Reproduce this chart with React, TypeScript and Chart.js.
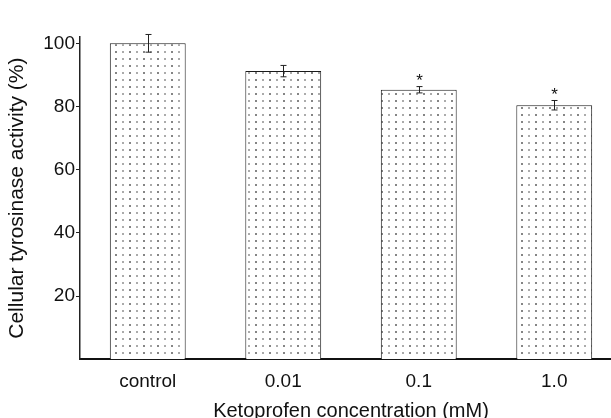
import React, { useEffect, useRef } from 'react';
import { Chart, registerables } from 'chart.js';

Chart.register(...registerables);

const categories = ['control', '0.01', '0.1', '1.0'];
const activity = [100, 91.2, 85.3, 80.4];
const errors = [2.8, 1.8, 1.0, 1.5];
const significance = ['', '', '*', '*'];
const yTicks = [20, 40, 60, 80, 100];

const FONT = "'Liberation Sans', Arial, Helvetica, sans-serif";
const INK = '#111111';

export default function App() {
  const ref = useRef<HTMLCanvasElement>(null);

  useEffect(() => {
    const canvas = ref.current!;
    const tile = document.createElement('canvas');
    tile.width = 14;
    tile.height = 7;
    const t = tile.getContext('2d')!;
    t.fillStyle = '#ffffff';
    t.fillRect(0, 0, 14, 7);
    t.fillStyle = '#858585';
    t.fillRect(3, 2, 2, 2);
    t.fillStyle = '#ababab';
    t.fillRect(10, 2, 2, 2);
    const pattern = canvas.getContext('2d')!.createPattern(tile, 'repeat');

    const errorBars = {
      id: 'errorBars',
      afterDatasetsDraw(chart: any) {
        const ctx = chart.ctx;
        const meta = chart.getDatasetMeta(0);
        const y = chart.scales.y;
        ctx.save();
        ctx.strokeStyle = '#222';
        ctx.lineWidth = 1;
        meta.data.forEach((bar: any, i: number) => {
          const x = Math.round(bar.x) + 0.5;
          const top = y.getPixelForValue(activity[i] + errors[i]);
          const bot = y.getPixelForValue(activity[i] - errors[i]);
          ctx.beginPath();
          ctx.moveTo(x, top);
          ctx.lineTo(x, bot);
          ctx.moveTo(x - 3, top);
          ctx.lineTo(x + 3, top);
          ctx.moveTo(x - 3, bot);
          ctx.lineTo(x + 3, bot);
          ctx.stroke();
          if (significance[i]) {
            ctx.fillStyle = INK;
            ctx.font = `17px ${FONT}`;
            ctx.textAlign = 'center';
            ctx.textBaseline = 'middle';
            ctx.fillText(significance[i], x, top - 5);
          }
        });
        ctx.restore();
      },
    };

    const chart = new Chart(canvas, {
      type: 'bar',
      data: {
        labels: categories,
        datasets: [
          {
            data: activity,
            backgroundColor: pattern as any,
            borderColor: '#1a1a1a',
            borderWidth: 1,
            barPercentage: 0.56,
            categoryPercentage: 1,
          },
        ],
      },
      options: {
        animation: false,
        responsive: true,
        maintainAspectRatio: false,
        layout: { padding: { left: 0, right: 0, top: 37, bottom: -5 } },
        plugins: { legend: { display: false }, tooltip: { enabled: false } },
        scales: {
          x: {
            grid: { display: false, drawTicks: false },
            border: { display: true, color: INK, width: 2 },
            ticks: { color: INK, font: { size: 19, family: FONT }, padding: 11 },
            title: {
              display: true,
              text: 'Ketoprofen concentration (mM)',
              color: INK,
              font: { size: 20, family: FONT },
              padding: { top: -5, bottom: 0 },
            },
          },
          y: {
            min: 0,
            max: 102,
            afterBuildTicks: (scale: any) => {
              scale.ticks = yTicks.map((v) => ({ value: v }));
            },
            afterFit: (scale: any) => {
              scale.width = 80;
            },
            grid: { drawOnChartArea: false, tickLength: 4, color: '#222', lineWidth: 1 },
            border: { display: true, color: '#222', width: 1.5 },
            ticks: { color: INK, font: { size: 19, family: FONT }, padding: 1 },
            title: {
              display: true,
              text: 'Cellular tyrosinase activity (%)',
              color: INK,
              font: { size: 21, family: FONT },
              padding: { top: 5, bottom: 0 },
            },
          },
        },
      },
      plugins: [errorBars],
    });

    return () => chart.destroy();
  }, []);

  return (
    <div style={{ position: 'fixed', left: 0, top: 0, width: 611, height: 418, overflow: 'hidden', background: '#fff' }}>
      <div style={{ position: 'relative', width: 622, height: 418 }}>
        <canvas ref={ref} />
      </div>
    </div>
  );
}
